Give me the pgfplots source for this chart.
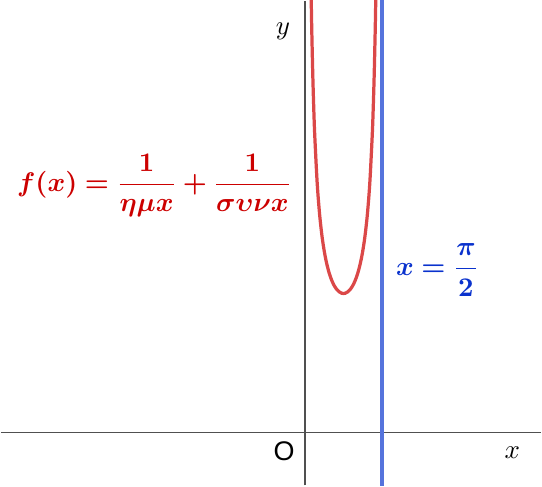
\documentclass[border=0pt]{standalone}
\usepackage{amsmath}
\usepackage{bm}
\usepackage{fontspec}
\newfontfamily\arialf{Liberation Sans}
\usepackage{pgfplots}
\pgfplotsset{compat=1.18}
\definecolor{curvered}{RGB}{219,72,72}
\definecolor{labred}{RGB}{204,0,0}
\definecolor{lineblue}{RGB}{85,115,220}
\definecolor{labblue}{RGB}{10,50,205}
\definecolor{axgray}{RGB}{80,80,80}
\begin{document}
\begin{tikzpicture}
\begin{axis}[
  scale only axis,
  width=200.54pt, height=179.82pt,
  xmin=-6.187, xmax=4.807, ymin=-1.075, ymax=8.783,
  axis lines=middle,
  axis line style={-, draw=axgray, line width=0.7pt},
  xtick=\empty, ytick=\empty,
  clip=true,
]
\addplot[curvered, line width=1.2pt, smooth] coordinates {
(0.105,10.55) (0.11,10.115) (0.12,9.361) (0.13,8.723) (0.14,8.176) (0.16,7.290)
(0.18,6.602) (0.20,6.054) (0.25,5.074) (0.30,4.431) (0.35,3.981) (0.40,3.654)
(0.45,3.410) (0.50,3.225) (0.55,3.086) (0.60,2.983) (0.65,2.909) (0.70,2.860)
(0.75,2.834) (0.7854,2.828) (0.8208,2.834) (0.8708,2.860) (0.9208,2.909)
(0.9708,2.983) (1.0208,3.086) (1.0708,3.225) (1.1208,3.410) (1.1708,3.654)
(1.2208,3.981) (1.2708,4.431) (1.3208,5.074) (1.3708,6.054) (1.3908,6.602)
(1.4108,7.290) (1.4308,8.176) (1.4408,8.723) (1.4508,9.361) (1.4608,10.115)
(1.4658,10.55)
};
\addplot[lineblue, line width=1.4pt] coordinates {(1.5708,-1.2) (1.5708,9)};
\node[labred] at (axis cs:-3.06,5.03) {$\displaystyle\boldsymbol{f(x)=\frac{1}{\eta\mu x}+\frac{1}{\sigma\upsilon\nu x}}$};
\node[labblue] at (axis cs:2.70,3.31) {$\displaystyle\boldsymbol{x=\frac{\pi}{2}}$};
\node at (axis cs:-0.446,8.17) {$y$};
\node at (axis cs:4.22,-0.406) {$x$};
\node at (axis cs:-0.426,-0.385) {\arialf O};
\end{axis}
\end{tikzpicture}
\end{document}
